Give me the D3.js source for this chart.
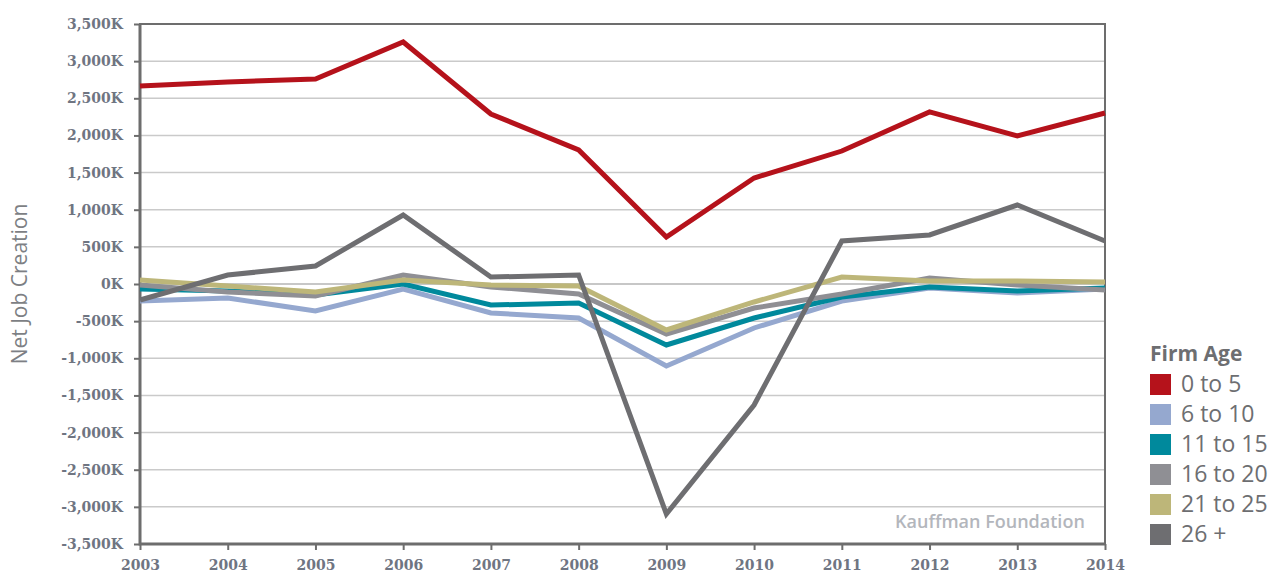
<!DOCTYPE html>
<html>
<head>
<meta charset="utf-8">
<script src="https://cdn.jsdelivr.net/npm/d3@7"></script>
<style>
  body { margin: 0; background: #fff; }
  svg { display: block; }
</style>
</head>
<body>
<div id="chart"></div>
<script>
  "use strict";

  // ---- data (thousands of net jobs) ----
  var years = [2003, 2004, 2005, 2006, 2007, 2008, 2009, 2010, 2011, 2012, 2013, 2014]
  var age0to5   = [2666, 2720, 2760, 3258, 2289, 1804, 633, 1427, 1790, 2316, 1993, 2302]
  var age6to10  = [-229, -188, -363, -67, -390, -458, -1104, -592, -229, -54, -121, -67]
  var age11to15 = [-67, -94, -148, 0, -283, -256, -821, -458, -175, -40, -94, -54]
  var age16to20 = [-13, -108, -162, 121, -40, -135, -673, -323, -135, 81, -13, -81]
  var age21to25 = [54, -27, -108, 54, -13, -27, -619, -242, 94, 40, 40, 27]
  var age26plus = [-215, 121, 242, 929, 94, 121, -3096, -1629, 579, 660, 1063, 579]
  var seriesNames = ["0 to 5", "6 to 10", "11 to 15", "16 to 20", "21 to 25", "26 +"]
  var yTicks = d3.range(-3500, 3501, 500)

  var colors = ["#b5121b", "#95a8cf", "#00899c", "#8f8f94", "#bdb679", "#6e6e71"]
  var series = [age0to5, age6to10, age11to15, age16to20, age21to25, age26plus]

  var width = 1281, height = 573
  var margin = { top: 24, right: 176, bottom: 29, left: 140 }

  var svg = d3.select("#chart").append("svg")
    .attr("width", width)
    .attr("height", height)

  var x = d3.scaleLinear()
    .domain([years[0], years[years.length - 1]])
    .range([margin.left, width - margin.right])

  var y = d3.scaleLinear()
    .domain([-3500, 3500])
    .range([height - margin.bottom, margin.top])

  var axisColor = "#6d6d6d"
  var tickFont = "'DejaVu Serif', serif"
  var labelColor = "#6f7582"

  // gridlines
  svg.append("g")
    .selectAll("line")
    .data(yTicks.slice(1, -1))
    .enter().append("line")
      .attr("x1", x.range()[0])
      .attr("x2", x.range()[1])
      .attr("y1", function (d) { return y(d) })
      .attr("y2", function (d) { return y(d) })
      .attr("stroke", function (d) { return d === 0 ? "#b4b4b4" : "#cacaca" })
      .attr("stroke-width", 1.5)

  // y axis
  var yAxis = svg.append("g")
    .attr("transform", "translate(" + margin.left + ",0)")
    .call(d3.axisLeft(y).tickValues(yTicks).tickSize(6).tickPadding(11)
      .tickFormat(function (d) { return d3.format(",")(d).replace("\u2212", "-") + "K" }))
  yAxis.select(".domain").remove()
  yAxis.selectAll(".tick line").attr("stroke", axisColor).attr("stroke-width", 2)
  yAxis.selectAll(".tick text")
    .attr("fill", labelColor)
    .attr("font-family", tickFont)
    .attr("font-weight", "bold")
    .attr("font-size", "14px")

  // x axis
  var xAxis = svg.append("g")
    .attr("transform", "translate(0," + (height - margin.bottom) + ")")
    .call(d3.axisBottom(x).tickValues(years).tickSize(6).tickPadding(10)
      .tickFormat(d3.format("d")))
  xAxis.select(".domain").remove()
  xAxis.selectAll(".tick line").attr("stroke", axisColor).attr("stroke-width", 2)
  xAxis.selectAll(".tick text")
    .attr("fill", labelColor)
    .attr("font-family", tickFont)
    .attr("font-weight", "bold")
    .attr("font-size", "14px")

  // plot frame
  svg.append("rect")
    .attr("x", x.range()[0])
    .attr("y", y.range()[1])
    .attr("width", x.range()[1] - x.range()[0])
    .attr("height", y.range()[0] - y.range()[1])
    .attr("fill", "none")
    .attr("stroke", axisColor)
    .attr("stroke-width", 2)
  svg.append("path")
    .attr("d", "M" + x.range()[0] + "," + y.range()[1] + "V" + y.range()[0] + "H" + x.range()[1])
    .attr("fill", "none")
    .attr("stroke", axisColor)
    .attr("stroke-width", 3)

  // watermark
  svg.append("text")
    .attr("x", x(2013.77))
    .attr("y", y(-3280))
    .attr("text-anchor", "end")
    .attr("font-family", "'Open Sans', sans-serif")
    .attr("font-weight", 600)
    .attr("font-size", "18px")
    .attr("fill", "#b3b6bc")
    .text("Kauffman Foundation")

  // lines
  var line = d3.line()
    .x(function (d, i) { return x(years[i]) })
    .y(function (d) { return y(d) })

  svg.append("g")
    .selectAll("path")
    .data(series)
    .enter().append("path")
      .attr("d", line)
      .attr("fill", "none")
      .attr("stroke", function (d, i) { return colors[i] })
      .attr("stroke-width", 5)
      .attr("stroke-linejoin", "miter")

  // y label
  svg.append("text")
    .attr("transform", "translate(27," + y(0) + ") rotate(-90)")
    .attr("text-anchor", "middle")
    .attr("font-family", "'Open Sans', sans-serif")
    .attr("font-size", "21px")
    .attr("fill", "#7d7f84")
    .text("Net Job Creation")

  // legend
  var legend = svg.append("g").attr("transform", "translate(1150,0)")
  legend.append("text")
    .attr("x", 0)
    .attr("y", 361)
    .attr("font-family", "'Open Sans', sans-serif")
    .attr("font-weight", "bold")
    .attr("font-size", "21px")
    .attr("fill", "#6d6e71")
    .text("Firm Age")

  var rows = legend.selectAll("g.row")
    .data(seriesNames)
    .enter().append("g")
      .attr("class", "row")
      .attr("transform", function (d, i) { return "translate(0," + (374 + i * 30) + ")" })
  rows.append("rect")
    .attr("width", 21)
    .attr("height", 21)
    .attr("fill", function (d, i) { return colors[i] })
  rows.append("text")
    .attr("x", 31)
    .attr("y", 18)
    .attr("font-family", "'Open Sans', sans-serif")
    .attr("font-size", "23px")
    .attr("fill", "#6d6e71")
    .text(function (d) { return d })
</script>
</body>
</html>
